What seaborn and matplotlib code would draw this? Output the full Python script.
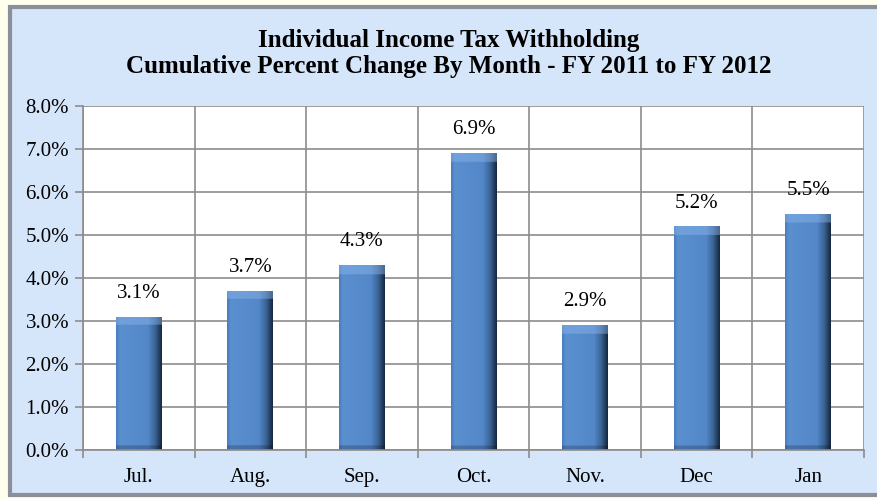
# withholding chart - cumulative percent change by month
import matplotlib
matplotlib.use("Agg")
import matplotlib.pyplot as plt
import seaborn as sns
import pandas as pd
import numpy as np
from matplotlib.patches import FancyBboxPatch
from matplotlib.colors import to_rgb
from matplotlib.ticker import FuncFormatter, FixedLocator

months = ["Jul.", "Aug.", "Sep.", "Oct.", "Nov.", "Dec", "Jan"]
pct_change = [3.1, 3.7, 4.3, 6.9, 2.9, 5.2, 5.5]
y_ticks = [0, 1, 2, 3, 4, 5, 6, 7, 8]

title_1 = "Individual Income Tax Withholding"
title_2 = "Cumulative Percent Change By Month - FY 2011 to FY 2012"

df = pd.DataFrame({"month": months, "pct": pct_change})

sns.set_theme(style="white")
plt.rcParams["font.family"] = ["Liberation Serif", "DejaVu Serif"]
plt.rcParams["text.color"] = "black"
plt.rcParams["xtick.color"] = "black"
plt.rcParams["ytick.color"] = "black"

fig = plt.figure(figsize=(8.78, 5.0), dpi=100)
fig.patch.set_facecolor("#FFFFEE")

# light blue panel behind everything
panel = FancyBboxPatch((10 / 878, 5 / 500), 880 / 878, 488 / 500,
                       boxstyle="square,pad=0", transform=fig.transFigure,
                       facecolor="#D5E5FA", edgecolor="#8A8F99", linewidth=3,
                       zorder=-10)
fig.patches.append(panel)

ax = fig.add_axes([83 / 878, 50 / 500, 781 / 878, 344 / 500])
ax.set_facecolor("white")

sns.barplot(data=df, x="month", y="pct", ax=ax, color="#4F81BD",
            width=0.41, edgecolor="none", linewidth=0, saturation=1,
            zorder=3)

ax.set_ylim(0, 8)
ax.set_xlim(-0.5, len(months) - 0.5)

# bevel look: horizontal shading plus a lighter band on top, clipped to bar
stops = [0.0, 0.08, 0.7, 0.86, 1.0]
stop_cols = [to_rgb(c) for c in
             ["#4B7DBD", "#5A8FD0", "#5387C8", "#3A6395", "#172840"]]
cols_x = np.linspace(0, 1, 60)
row_rgb = np.stack([np.interp(cols_x, stops, [c[k] for c in stop_cols])
                    for k in range(3)], axis=-1)
top_band = 0.2   # data units (about 8 px)
base_band = 0.1
for p in ax.patches:
    x0, w, h = p.get_x(), p.get_width(), p.get_height()
    rows = 200
    ys = np.linspace(h, 0, rows)
    img = np.repeat(row_rgb[None, :, :], rows, axis=0).copy()
    top = ys > h - top_band
    img[top] = img[top] * 0.55 + np.array(to_rgb("#8DB6EA")) * 0.45
    base = ys < base_band
    img[base] = img[base] * 0.8
    im = ax.imshow(img, extent=(x0, x0 + w, 0, h), aspect="auto",
                   interpolation="bilinear", zorder=3.5)
    im.set_clip_path(p)
ax.set_ylim(0, 8)
ax.set_xlim(-0.5, len(months) - 0.5)

# value labels above each bar
for p, v in zip(ax.patches, pct_change):
    ax.annotate(f"{v:.1f}%", (p.get_x() + p.get_width() / 2, p.get_height()),
                xytext=(0, 10), textcoords="offset points", ha="center",
                va="bottom", fontsize=15, color="black", zorder=5)

ax.yaxis.set_major_locator(FixedLocator(y_ticks))
ax.yaxis.set_major_formatter(FuncFormatter(lambda v, _: f"{v:.1f}%"))

# gridlines: horizontal at each tick, vertical between categories
for v in y_ticks:
    ax.axhline(v, color="#8C8C8C", linewidth=1.2, zorder=1)
for i in range(len(months) + 1):
    ax.axvline(i - 0.5, color="#8C8C8C", linewidth=1.2, zorder=1)

ax.set_xticks(range(len(months)))
ax.set_xticks([i - 0.5 for i in range(len(months) + 1)], minor=True)
ax.tick_params(axis="x", which="major", length=0, pad=13, labelsize=15)
ax.tick_params(axis="x", which="minor", length=6, width=1.2,
               color="#8C8C8C", bottom=True)
ax.tick_params(axis="y", length=6, width=1.2, color="#8C8C8C", left=True,
               labelcolor="black", pad=4, labelsize=15)
ax.set_xlabel("")
ax.set_ylabel("")
for side in ["top", "right"]:
    ax.spines[side].set_visible(False)
for side in ["left", "bottom"]:
    ax.spines[side].set_color("#8C8C8C")
    ax.spines[side].set_linewidth(1.2)
    ax.spines[side].set_zorder(4)

fig.text(449 / 878, 1 - 41 / 500, title_1, ha="center", va="center",
         fontsize=18, fontweight="bold")
fig.text(449 / 878, 1 - 66 / 500, title_2, ha="center", va="center",
         fontsize=18, fontweight="bold")

fig.savefig("out.png", dpi=100, facecolor=fig.get_facecolor())
